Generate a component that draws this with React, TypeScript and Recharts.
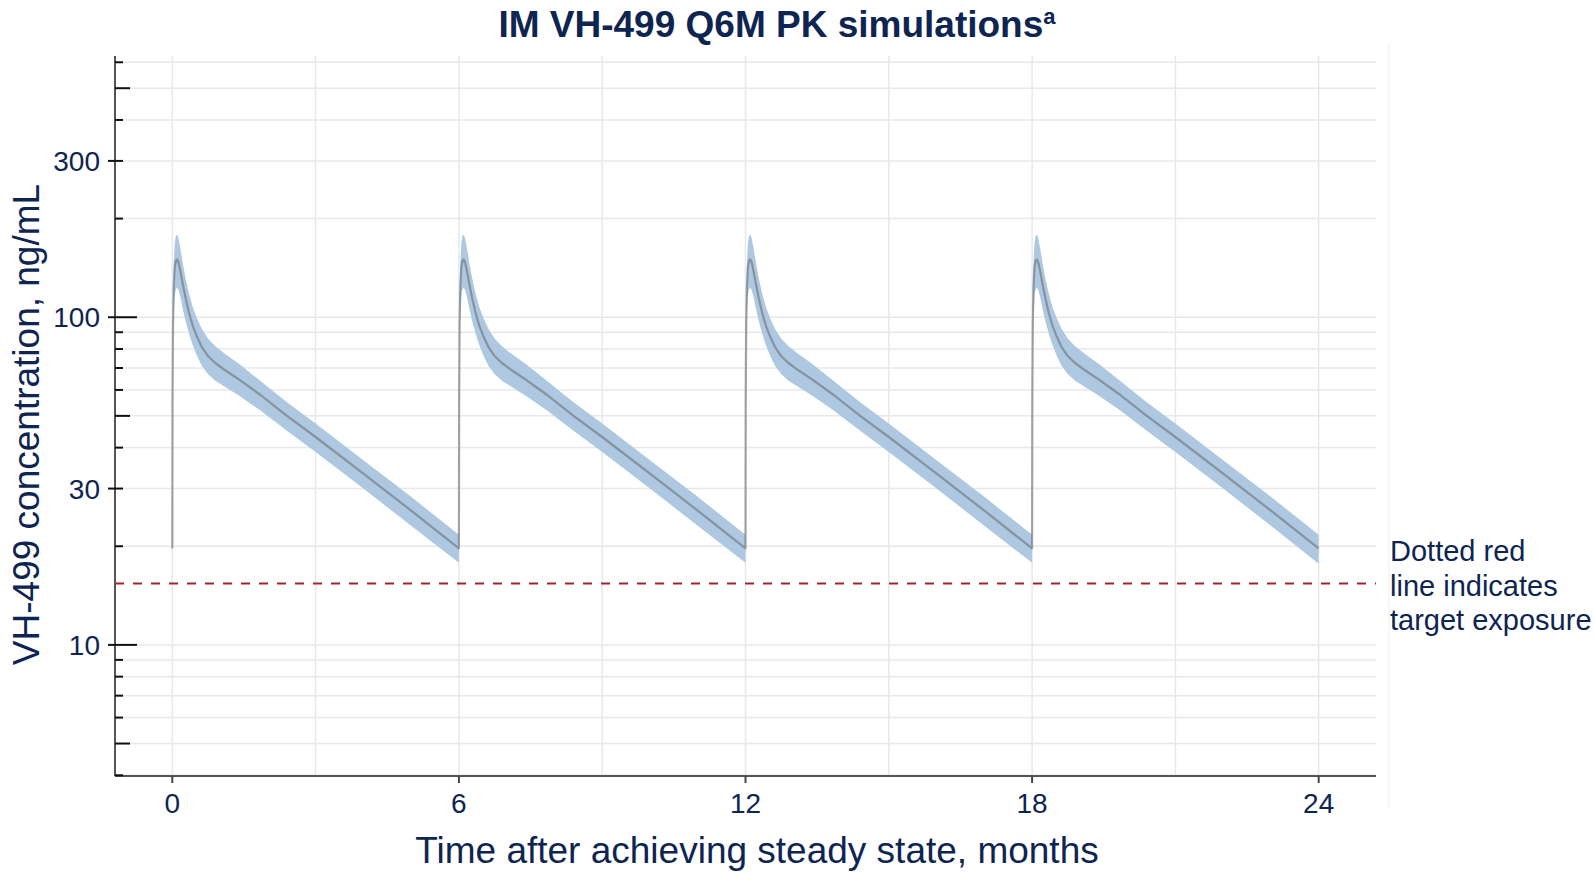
import {
  ComposedChart,
  Area,
  Line,
  XAxis,
  YAxis,
  CartesianGrid,
  ReferenceLine,
} from "recharts";

// one steady-state dosing interval (months after dose)
const cycleTime = [0, 0.005, 0.015, 0.03, 0.05, 0.075, 0.1, 0.13, 0.17, 0.22, 0.28, 0.35, 0.43, 0.52, 0.62, 0.75, 0.9, 1.1, 1.4, 1.84, 2.4, 3, 4, 5, 6];
const medianConc = [19.7, 55, 95, 125, 142, 149, 150, 147, 138, 126, 114, 103, 94, 87, 81, 76, 72.5, 69, 64.5, 58, 50, 43.1, 33.3, 25.7, 19.7];
const lowerConc = [17.8, 48, 81, 105, 117, 122, 123, 121, 115, 106, 97, 89, 82, 76, 71, 67, 64, 61.4, 57.6, 52, 45, 38.8, 30, 23.1, 17.7];
const upperConc = [21.7, 63, 110, 147, 168, 177, 179, 174, 162, 146, 131, 118, 107, 99, 92, 86, 81.5, 77.3, 72, 64, 55, 47.4, 36.6, 28.3, 21.7];

const doseMonths = [0, 6, 12, 18];
const xTicks = [0, 6, 12, 18, 24];
const xGrid = [0, 3, 6, 9, 12, 15, 18, 21, 24];
const yTicks = [4, 5, 6, 7, 8, 9, 10, 20, 30, 40, 50, 60, 70, 80, 90, 100, 200, 300, 400, 500, 600];
const yLabels = [10, 30, 100, 300];
const targetExposure = 15.4;

const NAVY = "#0e2451";
const FONT = "'Liberation Sans', Arial, Helvetica, sans-serif";
const Y_TICK_SIZE = 7;
const Y_TICK_MARGIN = 8;

const rows: { t: number; med: number; band: [number, number] }[] = [];
doseMonths.forEach((d, k) => {
  cycleTime.forEach((ct, i) => {
    if (i === cycleTime.length - 1 && k < doseMonths.length - 1) return;
    rows.push({ t: d + ct, med: medianConc[i], band: [lowerConc[i], upperConc[i]] });
  });
});

function YTick(props: any) {
  const { x, y, payload } = props;
  const v = payload.value as number;
  const axisX = x + Y_TICK_SIZE + Y_TICK_MARGIN;
  const mant = v / Math.pow(10, Math.floor(Math.log10(v) + 1e-9));
  const inLen = Math.abs(mant - 1) < 1e-6 ? 22 : Math.abs(mant - 5) < 1e-6 ? 15 : 8;
  const labeled = yLabels.includes(v);
  return (
    <g>
      <line x1={axisX} x2={axisX + inLen} y1={y} y2={y} stroke="#111" strokeWidth={2} />
      {labeled && <line x1={axisX - Y_TICK_SIZE} x2={axisX} y1={y} y2={y} stroke="#111" strokeWidth={2} />}
      {labeled && (
        <text x={axisX - 15} y={y} dy="0.36em" textAnchor="end" fill={NAVY} fontSize={28} fontFamily={FONT}>
          {v}
        </text>
      )}
    </g>
  );
}

export default function App() {
  return (
    <div style={{ position: "absolute", left: 0, top: 0, width: 1595, height: 872, background: "#fff" }}>
      <ComposedChart
        width={1595}
        height={872}
        data={rows}
        margin={{ top: 56, right: 219, bottom: 36, left: 15 }}
        style={{ fontFamily: FONT }}
      >
        <CartesianGrid
          stroke="#e8e8e8"
          strokeWidth={1.5}
          verticalValues={xGrid}
          horizontalValues={yTicks}
        />
        <XAxis
          dataKey="t"
          type="number"
          domain={[-1.2, 25.2]}
          ticks={xTicks}
          allowDataOverflow
          height={60}
          tickSize={7}
          tickMargin={10}
          tickLine={{ stroke: "#444", strokeWidth: 2 }}
          axisLine={{ stroke: "#555", strokeWidth: 2 }}
          tick={{ fill: NAVY, fontSize: 28 }}
        />
        <XAxis
          xAxisId="top"
          orientation="top"
          type="number"
          domain={[-1.2, 25.2]}
          height={0}
          tick={false}
          tickLine={false}
          axisLine={{ stroke: "#666", strokeWidth: 2 }}
        />
        <YAxis
          scale="log"
          type="number"
          domain={[3.98, 627]}
          ticks={yTicks}
          allowDataOverflow
          interval={0}
          width={100}
          tickSize={Y_TICK_SIZE}
          tickMargin={Y_TICK_MARGIN}
          tickLine={false}
          axisLine={{ stroke: "#555", strokeWidth: 2 }}
          tick={<YTick />}
        />
        <YAxis
          yAxisId="right"
          orientation="right"
          scale="log"
          type="number"
          domain={[3.98, 627]}
          width={0}
          tick={false}
          tickLine={false}
          axisLine={{ stroke: "#666", strokeWidth: 2 }}
        />
        <Area
          dataKey="band"
          type="linear"
          stroke="none"
          fill="#adc8e0"
          fillOpacity={1}
          isAnimationActive={false}
        />
        <Line
          dataKey="med"
          type="linear"
          stroke="#6a6f76"
          strokeOpacity={0.6}
          strokeWidth={2.2}
          strokeLinejoin="round"
          dot={false}
          isAnimationActive={false}
        />
        <ReferenceLine y={targetExposure} stroke="#a82424" strokeWidth={2} strokeDasharray="9 9" />
      </ComposedChart>
      <svg
        width={1595}
        height={872}
        style={{ position: "absolute", left: 0, top: 0, pointerEvents: "none" }}
        fontFamily={FONT}
      >
        <line x1={1389} x2={1389} y1={43} y2={808} stroke="#efefef" strokeWidth={1} />
        <text x={777} y={37} textAnchor="middle" fill={NAVY} fontSize={37} fontWeight="bold">
          IM VH-499 Q6M PK simulations
          <tspan dy={-13} fontSize={22}>a</tspan>
        </text>
        <text x={757} y={863} textAnchor="middle" fill={NAVY} fontSize={37}>
          Time after achieving steady state, months
        </text>
        <text
          x={39}
          y={424.5}
          textAnchor="middle"
          fill={NAVY}
          fontSize={37}
          transform="rotate(-90, 39, 424.5)"
        >
          VH-499 concentration, ng/mL
        </text>
        <text x={1390} y={561} fill={NAVY} fontSize={29}>Dotted red</text>
        <text x={1390} y={596} fill={NAVY} fontSize={29}>line indicates</text>
        <text x={1390} y={630} fill={NAVY} fontSize={29}>target exposure</text>
      </svg>
    </div>
  );
}
